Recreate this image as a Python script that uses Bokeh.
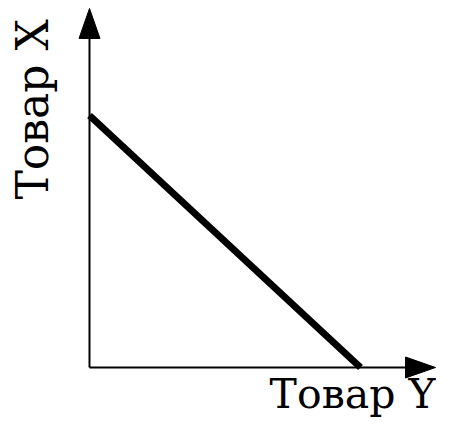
import math
from bokeh.plotting import figure
from bokeh.models import Range1d, Label
from bokeh.embed import file_html
from bokeh.resources import INLINE

# data: production possibility frontier
goods_y = [0, 10]      # Товар Y
goods_x = [9, 0]       # Товар X
x_label = "Товар Y"
y_label = "Товар X"

W, H = 436, 419
OX, OY = 89, 367          # origin in canvas px (from top-left)
SX, SY = 27.1, 28.0       # px per unit

def dx(px):
    return (px - OX) / SX

def dy(py):
    return (OY - py) / SY

p = figure(width=W, height=H, output_backend="svg", toolbar_location=None,
           x_axis_type=None, y_axis_type=None, min_border=0,
           x_range=Range1d(dx(0), dx(W)), y_range=Range1d(dy(H), dy(0)))
p.grid.visible = False
p.outline_line_color = None
p.background_fill_color = "white"

# axes
x_tip, y_tip = dx(435), dy(8)
head_len, head_w = 30, 21
p.line([0, 0], [0, y_tip - head_len / SY * 0.5], line_color="black", line_width=2)
p.line([0, x_tip - head_len / SX * 0.5], [0, 0], line_color="black", line_width=2)
p.patch([-head_w / 2 / SX, head_w / 2 / SX, 0],
        [y_tip - head_len / SY, y_tip - head_len / SY, y_tip],
        fill_color="black", line_color="black")
p.patch([x_tip - head_len / SX, x_tip - head_len / SX, x_tip],
        [head_w / 2 / SY, -head_w / 2 / SY, 0],
        fill_color="black", line_color="black")

# frontier
p.line(goods_y, goods_x, line_color="black", line_width=7, line_cap="butt")

p.add_layout(Label(x=dx(435), y=dy(393), text=x_label, text_align="right",
                   text_baseline="alphabetic", text_font="DejaVu Serif",
                   text_font_size="41px", text_color="black"))
p.add_layout(Label(x=dx(32), y=dy(199), text=y_label, angle=math.pi / 2,
                   text_align="left", text_baseline="alphabetic",
                   text_font="DejaVu Serif", text_font_size="44px",
                   text_color="black"))

open("out.html", "w").write(file_html(p, INLINE))
